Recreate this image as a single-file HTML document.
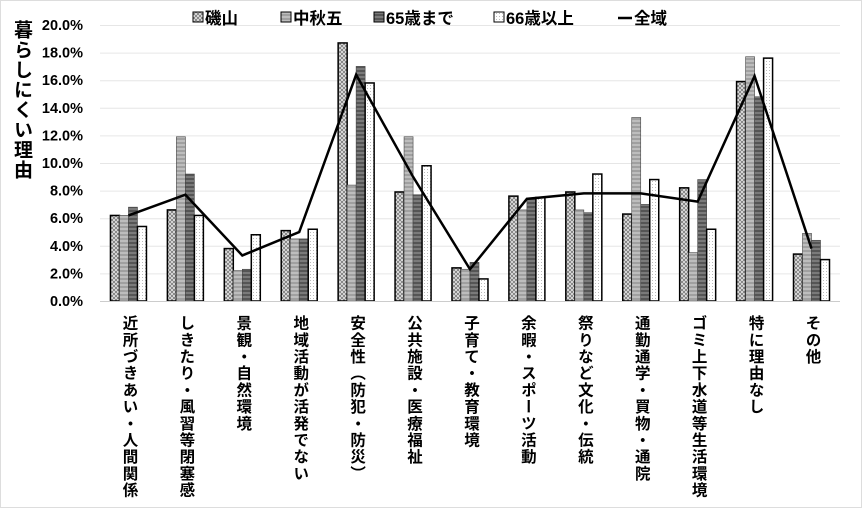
<!DOCTYPE html>
<html><head><meta charset="utf-8"><style>
body{margin:0;background:#fff;}
#c{position:relative;width:862px;height:508px;overflow:hidden;font-family:"Liberation Sans","Noto Sans CJK JP",sans-serif;font-weight:bold;color:#000;}
.lab{position:absolute;top:315px;writing-mode:vertical-rl;font-size:15.5px;line-height:16px;letter-spacing:1.2px;width:16px;}
</style></head><body><div id="c">
<svg width="862" height="508" style="position:absolute;left:0;top:0">
<defs>
<pattern id="p1" width="4" height="4" patternUnits="userSpaceOnUse"><rect width="4" height="4" fill="#e8e8e8"/><path d="M0 4L4 0M0 0L4 4" stroke="#777" stroke-width="0.8"/></pattern>
<pattern id="p2" width="4" height="4" patternUnits="userSpaceOnUse"><rect width="4" height="4" fill="#bdbdbd"/><rect y="2" width="4" height="2" fill="#a0a0a0"/></pattern>
<pattern id="p3" width="4" height="4" patternUnits="userSpaceOnUse"><rect width="4" height="4" fill="#7a7a7a"/><rect y="2" width="4" height="2" fill="#555"/></pattern>
<pattern id="p4" width="3" height="3" patternUnits="userSpaceOnUse"><rect width="3" height="3" fill="#fff"/><rect x="1" y="1" width="1" height="1" fill="#bbb"/></pattern>
</defs>
<rect x="0.5" y="0.5" width="861" height="507" fill="none" stroke="#ddd"/>
<g stroke="#e6e6e6" stroke-width="1" id="grid"></g>
<g id="bars"></g>
<line x1="100" y1="301.5" x2="840" y2="301.5" stroke="#ccc"/>
<polyline id="ln" fill="none" stroke="#000" stroke-width="2.5"/>
<g font-size="14.5" text-anchor="end" id="yl"></g>
<g font-size="16.5">
<rect x="193" y="12" width="10" height="10" fill="url(#p1)" stroke="#000"/><text x="205" y="24">磯山</text>
<rect x="281" y="12" width="10" height="10" fill="url(#p2)" stroke="#000"/><text x="293" y="24">中秋五</text>
<rect x="374" y="12" width="10" height="10" fill="url(#p3)" stroke="#000"/><text x="386" y="24">65歳まで</text>
<rect x="494" y="12" width="10" height="10" fill="url(#p4)" stroke="#000"/><text x="506" y="24">66歳以上</text>
<line x1="618" y1="18" x2="632" y2="18" stroke="#000" stroke-width="2.5"/><text x="634" y="24">全域</text>
</g>
</svg>
<div style="position:absolute;left:11px;top:20px;writing-mode:vertical-rl;font-size:19px;line-height:20px;letter-spacing:1px;">暮らしにくい理由</div>
<div id="labs"></div>
</div>
<script>
var d=[[6.2,6.2,6.8,5.4,6.2],[6.6,11.9,9.2,6.2,7.7],[3.8,2.2,2.3,4.8,3.3],[5.1,4.5,4.5,5.2,5.0],[18.7,8.4,17.0,15.8,16.4],[7.9,11.9,7.7,9.8,9.0],[2.4,2.3,2.8,1.6,2.3],[7.6,6.6,7.4,7.5,7.4],[7.9,6.6,6.4,9.2,7.8],[6.3,13.3,7.0,8.8,7.8],[8.2,3.5,8.8,5.2,7.2],[15.9,17.7,14.8,17.6,16.3],[3.4,4.9,4.4,3.0,3.8]];
var L=["近所づきあい・人間関係","しきたり・風習等閉塞感","景観・自然環境","地域活動が活発でない","安全性（防犯・防災）","公共施設・医療福祉","子育て・教育環境","余暇・スポーツ活動","祭りなど文化・伝統","通勤通学・買物・通院","ゴミ上下水道等生活環境","特に理由なし","その他"];
var ns="http://www.w3.org/2000/svg";function el(t,a,p){var e=document.createElementNS(ns,t);for(var k in a)e.setAttribute(k,a[k]);document.getElementById(p).appendChild(e);return e;}
function Y(v){return 301-v*13.8;}
for(var i=1;i<=10;i++){var y=Y(i*2)+0.5;el("line",{x1:100,x2:840,y1:y,y2:y},"grid");}
for(var i=0;i<=10;i++){var t=el("text",{x:83,y:Y(i*2)+5},"yl");t.textContent=(i*2).toFixed(1)+"%";}
var pts=[],w=56.92,h="";
d.forEach(function(r,i){var cx=100+w*(i+0.5);
for(var j=0;j<4;j++){var x=cx-18+j*9;var a={x:x,y:Y(r[j]),width:9,height:r[j]*13.8,fill:"url(#p"+(j+1)+")"};if(j==0||j==3){a.stroke="#000";a["stroke-width"]=1.5;}else{a.stroke="#444";a["stroke-width"]=0.6;}el("rect",a,"bars");}
pts.push(cx+","+Y(r[4]));
h+='<div class="lab" style="left:'+(cx-8)+'px">'+L[i]+'</div>';});
document.getElementById("ln").setAttribute("points",pts.join(" "));
document.getElementById("labs").innerHTML=h;
</script>
</body></html>
